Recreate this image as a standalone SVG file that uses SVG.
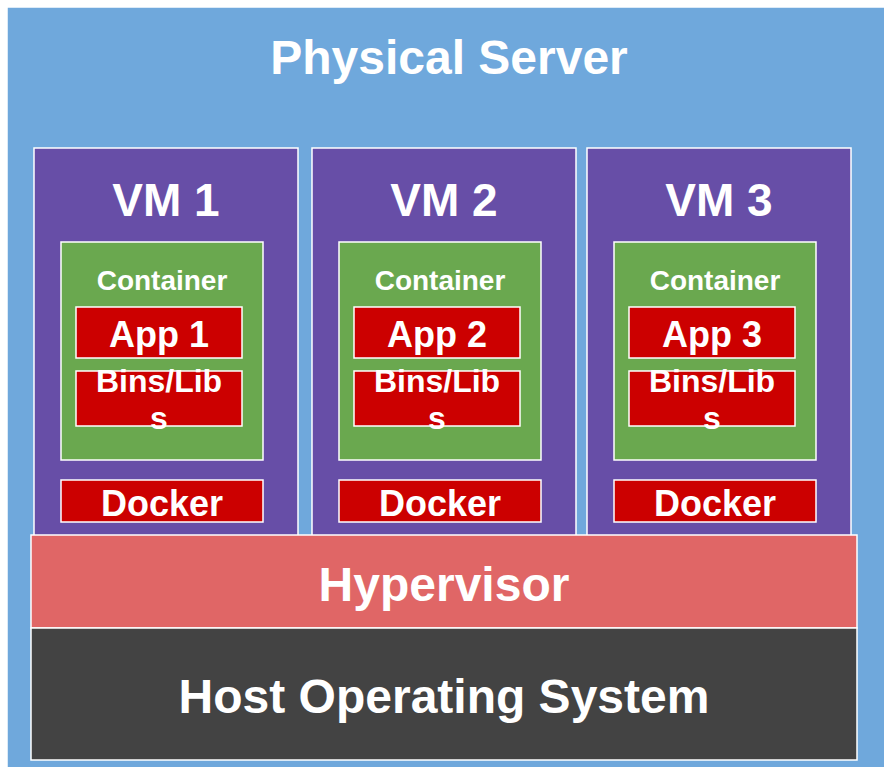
<svg xmlns="http://www.w3.org/2000/svg" width="884" height="767" viewBox="0 0 884 767">
<style>
rect{stroke:#ffffff;stroke-width:1.5}
text{font-family:"Liberation Sans",Arial,sans-serif;font-weight:bold;fill:#ffffff;text-anchor:middle}
.server{fill:#6fa8dc}
.vm{fill:#674ea7}
.ct{fill:#6aa84f}
.red{fill:#cc0000}
.hyp{fill:#e06666}
.os{fill:#434343}
.t48{font-size:48px}
.t46{font-size:46px}
.t36{font-size:36px}
.t32{font-size:32px}
.t28{font-size:28px}
</style>
<rect x="0" y="0" width="884" height="767" fill="#ffffff" stroke="none"/>
<g id="physical-server">
<rect class="server" x="7" y="7" width="885" height="770" stroke="none"/>
<text class="t48" x="449" y="74">Physical Server</text>
</g>
<g id="vm1">
<rect class="vm" x="34" y="148" width="264" height="400"/>
<text class="t46" x="166" y="216">VM 1</text>
<g id="container1"><rect class="ct" x="61" y="242" width="202" height="218"/><text class="t28" x="162" y="290">Container</text></g>
<g id="app1"><rect class="red" x="76" y="307" width="166" height="51"/><text class="t36" x="159" y="347">App 1</text></g>
<g id="bins1"><rect class="red" x="76" y="371" width="166" height="55"/><text class="t32" x="159" y="392">Bins/Lib<tspan x="159" y="429">s</tspan></text></g>
<g id="docker1"><rect class="red" x="61" y="480" width="202" height="42"/><text class="t36" x="162" y="516">Docker</text></g>
</g>
<g id="vm2">
<rect class="vm" x="312" y="148" width="264" height="400"/>
<text class="t46" x="444" y="216">VM 2</text>
<g id="container2"><rect class="ct" x="339" y="242" width="202" height="218"/><text class="t28" x="440" y="290">Container</text></g>
<g id="app2"><rect class="red" x="354" y="307" width="166" height="51"/><text class="t36" x="437" y="347">App 2</text></g>
<g id="bins2"><rect class="red" x="354" y="371" width="166" height="55"/><text class="t32" x="437" y="392">Bins/Lib<tspan x="437" y="429">s</tspan></text></g>
<g id="docker2"><rect class="red" x="339" y="480" width="202" height="42"/><text class="t36" x="440" y="516">Docker</text></g>
</g>
<g id="vm3">
<rect class="vm" x="587" y="148" width="264" height="400"/>
<text class="t46" x="719" y="216">VM 3</text>
<g id="container3"><rect class="ct" x="614" y="242" width="202" height="218"/><text class="t28" x="715" y="290">Container</text></g>
<g id="app3"><rect class="red" x="629" y="307" width="166" height="51"/><text class="t36" x="712" y="347">App 3</text></g>
<g id="bins3"><rect class="red" x="629" y="371" width="166" height="55"/><text class="t32" x="712" y="392">Bins/Lib<tspan x="712" y="429">s</tspan></text></g>
<g id="docker3"><rect class="red" x="614" y="480" width="202" height="42"/><text class="t36" x="715" y="516">Docker</text></g>
</g>
<g id="hypervisor">
<rect class="hyp" x="31" y="535" width="826" height="93"/>
<text class="t48" x="444" y="601">Hypervisor</text>
</g>
<g id="host-os">
<rect class="os" x="31" y="628" width="826" height="132"/>
<text class="t48" x="444" y="713">Host Operating System</text>
</g>
</svg>
